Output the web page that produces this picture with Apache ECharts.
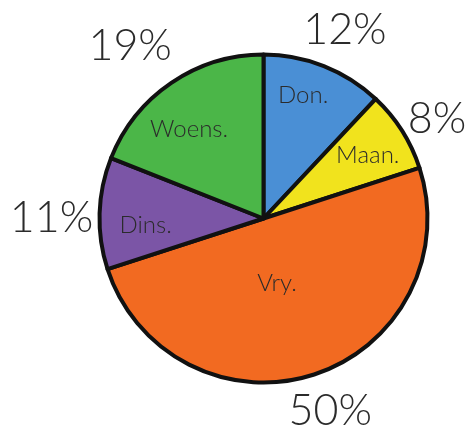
<!DOCTYPE html>
<html>
<head>
<meta charset="utf-8">
<script src="https://cdn.jsdelivr.net/npm/echarts@6/dist/echarts.min.js"></script>
<style>
  html, body { margin: 0; padding: 0; background: #fff; }
  #chart { width: 471px; height: 434px; }
</style>
</head>
<body>
<div id="chart"></div>
<script>
// Days of the week (Afrikaans abbreviations) and their share in percent
const days = ['Don.', 'Maan.', 'Vry.', 'Dins.', 'Woens.'];
const shares = [12, 8, 50, 11, 19];
const sliceColors = ['#4a8fd5', '#f1e31d', '#f26a21', '#7b55a6', '#4bb648'];

// Label placement: distance from the centre (px) and a small turn (deg)
// away from each slice's middle angle
const innerLabelRadius = [129, 122, 66, 118, 116];
const innerLabelTurn = [-3.7, 1.1, 6.2, -5.2, -5.7];
const outerLabelRadius = [205, 200, 204, 212, 218];
const outerLabelTurn = [1.8, 2.6, -1.1, -1.7, -3.5];

const cx = 263.5, cy = 218.5, pieRadius = 164;
const textColor = '#2b2b2b';
const fontFamily = 'Lato, "Open Sans", sans-serif';

const chart = echarts.init(document.getElementById('chart'));

const total = shares.reduce((a, b) => a + b, 0);
const graphics = [];
let acc = 0;
shares.forEach((v, i) => {
  const midDeg = (acc + v / 2) / total * 360; // clockwise from 12 o'clock
  acc += v;
  const place = (r, turn) => {
    const a = (midDeg + turn) * Math.PI / 180;
    return [cx + r * Math.sin(a), cy - r * Math.cos(a)];
  };
  const pIn = place(innerLabelRadius[i], innerLabelTurn[i]);
  const pOut = place(outerLabelRadius[i], outerLabelTurn[i]);
  graphics.push({
    type: 'text', x: pIn[0], y: pIn[1], z: 10,
    style: {
      text: days[i], fill: textColor, fontSize: 24, fontFamily: fontFamily,
      fontWeight: 300, align: 'center', verticalAlign: 'middle'
    }
  });
  graphics.push({
    type: 'text', x: pOut[0], y: pOut[1], z: 10,
    style: {
      text: v + '%', fill: textColor, fontSize: 43, fontFamily: fontFamily,
      fontWeight: 300, align: 'center', verticalAlign: 'middle'
    }
  });
});

chart.setOption({
  animation: false,
  backgroundColor: '#ffffff',
  series: [{
    type: 'pie',
    center: [cx, cy],
    radius: pieRadius,
    startAngle: 90,
    clockwise: true,
    avoidLabelOverlap: false,
    label: { show: false },
    labelLine: { show: false },
    emphasis: { disabled: true },
    itemStyle: { borderColor: '#111111', borderWidth: 4 },
    data: days.map((d, i) => ({
      name: d,
      value: shares[i],
      itemStyle: { color: sliceColors[i] }
    }))
  }],
  graphic: graphics
});
</script>
</body>
</html>
